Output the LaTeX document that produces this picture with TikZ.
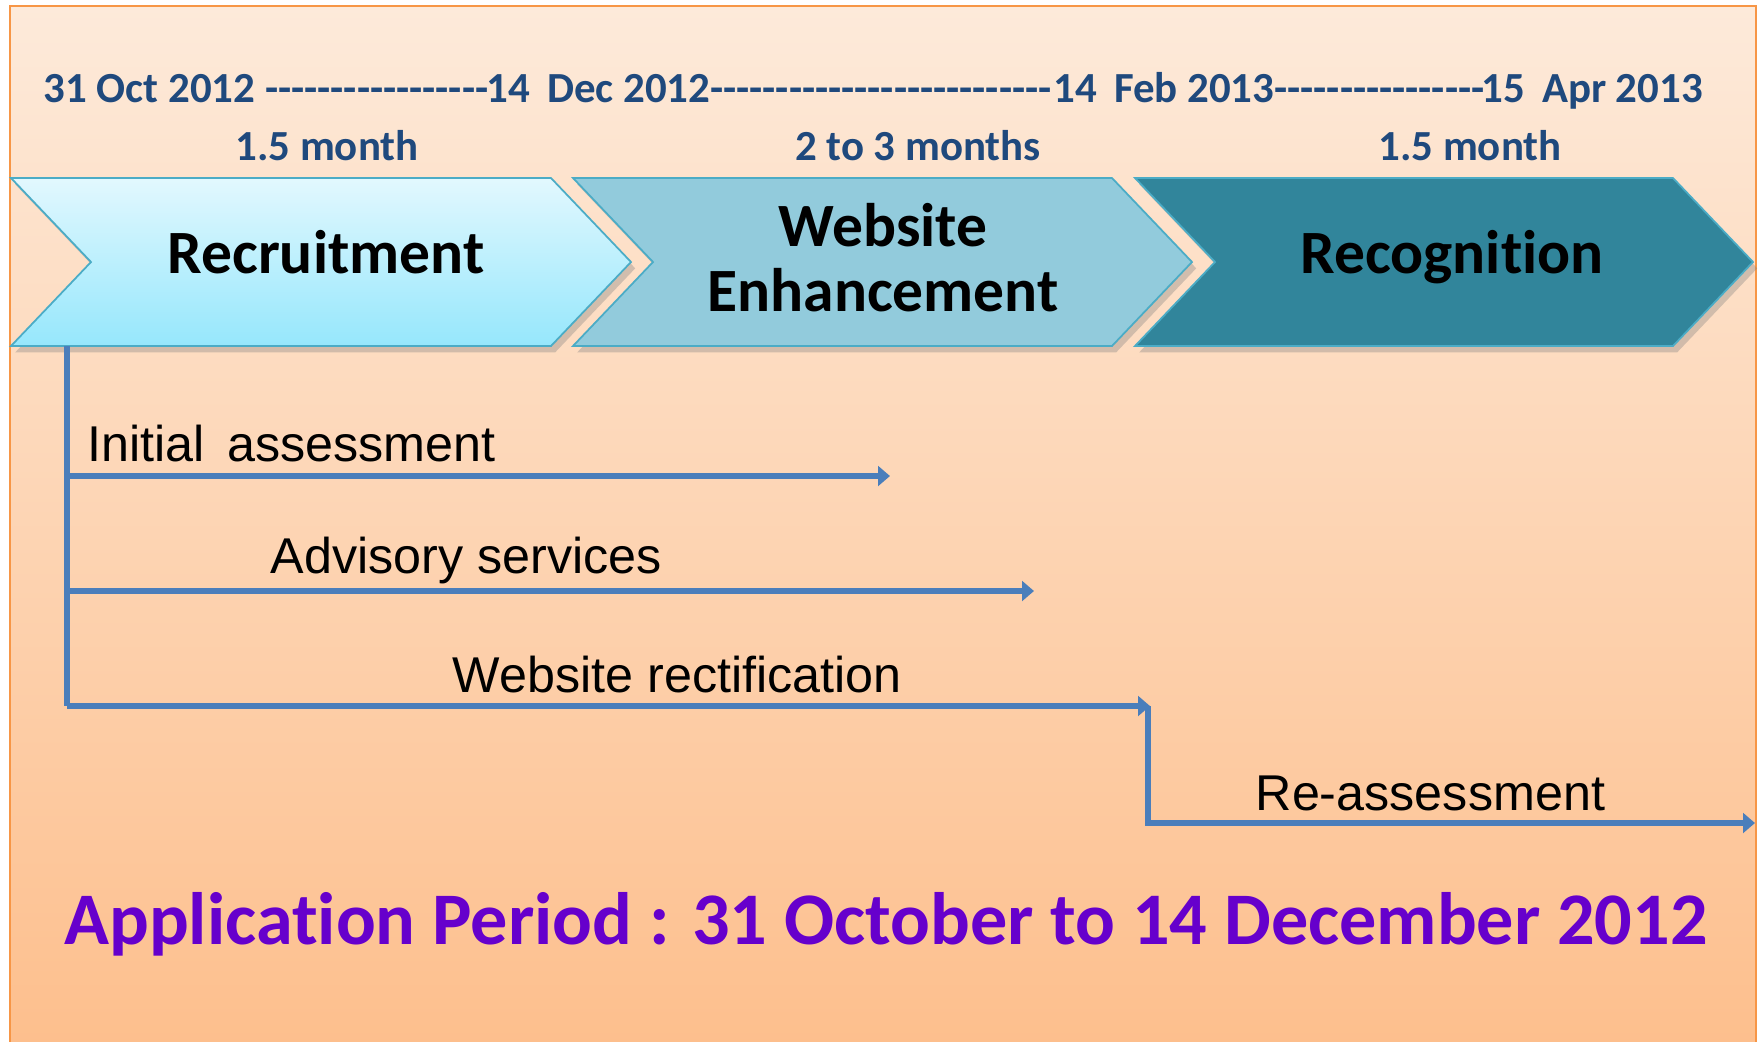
\documentclass[tikz,border=0pt]{standalone}
\usepackage{fontspec}
\setmainfont{Carlito}[Ligatures={TeXOff,CommonOff}]
\newfontfamily\arialfont{Liberation Sans}
\usetikzlibrary{arrows.meta,shadows}
\definecolor{peachtop}{RGB}{253,234,218}
\definecolor{peachbot}{RGB}{253,191,141}
\definecolor{borderorange}{RGB}{247,150,70}
\definecolor{dateblue}{RGB}{31,73,125}
\definecolor{chevedge}{RGB}{75,172,198}
\definecolor{recrtop}{RGB}{226,248,254}
\definecolor{recrbot}{RGB}{150,231,252}
\definecolor{webfill}{RGB}{146,203,220}
\definecolor{recogfill}{RGB}{49,133,155}
\definecolor{flowblue}{RGB}{74,126,187}
\definecolor{periodpurple}{RGB}{102,0,204}
\tikzset{
  bgpanel/.style={top color=peachtop, bottom color=peachbot, draw=borderorange, line width=0.5pt},
  chevron/.style={draw=chevedge, line width=0.5pt, line join=miter,
    drop shadow={shadow xshift=1.2pt, shadow yshift=-1.8pt, opacity=0.35}},
  datetext/.style={text=dateblue, font=\bfseries\fontsize{12.2}{14}\selectfont, inner sep=0pt},
  phasetext/.style={text=black, font=\bfseries\fontsize{17.5}{18.5}\selectfont, align=center, inner sep=0pt},
  tasktext/.style={text=black, font=\arialfont\fontsize{14.3}{16}\selectfont, anchor=west, inner sep=0pt},
  flowline/.style={draw=flowblue, line width=1.6pt},
  flowarrow/.style={flowline, -{Triangle[length=3.4pt, width=5.6pt]}},
}
\begin{document}
\begin{tikzpicture}[x=0.01cm, y=-0.01cm]
\useasboundingbox (0,0) rectangle (1762,1041);
% background panel
\path[bgpanel] (10,6) rectangle (1756,1045);

% timeline dates
\node[datetext, anchor=base west] (d1) at (43,102) {31 Oct 2012 -----------------};
\node[datetext, anchor=base west] (d2) at (486,102) {14\,\ Dec 2012--------------------------};
\node[datetext, anchor=base west] (d3) at (1053,102) {14\,\ Feb 2013----------------};
\node[datetext, anchor=base west] (d4) at (1481,102) {15\,\ Apr 2013};
\node[datetext, anchor=base] (m1) at (327,160) {1.5 month};
\node[datetext, anchor=base] (m2) at (918,160) {2 to 3 months};
\node[datetext, anchor=base] (m3) at (1470,160) {1.5 month};

% phase chevrons
\path[chevron, top color=recrtop, bottom color=recrbot]
  (11,178) -- (551,178) -- (631,262) -- (551,346) -- (11,346) -- (91,262) -- cycle;
\path[chevron, fill=webfill]
  (573,178) -- (1112,178) -- (1192,262) -- (1112,346) -- (573,346) -- (653,262) -- cycle;
\path[chevron, fill=recogfill]
  (1135,178) -- (1673,178) -- (1753,262) -- (1673,346) -- (1135,346) -- (1215,262) -- cycle;
\node[phasetext, anchor=base] (recruit) at (326,273) {Recruitment};
\node[phasetext] (website) at (883,258) {Website\\Enhancement};
\node[phasetext, anchor=base] (recog) at (1452,273) {Recognition};

% activity arrows
\coordinate (trunk) at (67,346);
\coordinate (trunkend) at (67,706);
\coordinate (iaend) at (890,476);
\coordinate (asend) at (1034,591);
\coordinate (wrend) at (1150,706);
\coordinate (raend) at (1755,823);
\draw[flowline] (trunk) -- (trunkend);
\draw[flowarrow] (trunk |- iaend) -- (iaend);
\draw[flowarrow] (trunk |- asend) -- (asend);
\draw[flowarrow] (trunkend) -- (wrend);
\draw[flowarrow] ([xshift=-0.6pt]wrend) |- (raend);
\node[tasktext] (ia) at (87,444) {Initial\,\ assessment};
\node[tasktext] (as) at (270,560) {Advisory services};
\node[tasktext] (wr) at (452,675) {Website rectification};
\node[tasktext] (ra) at (1255,793) {Re-assessment};

% application period
\node[text=periodpurple, font=\bfseries\fontsize{21.1}{24}\selectfont, inner sep=0pt] (period) at (886,924)
  {Application Period : 31 October to 14 December 2012};
\end{tikzpicture}
\end{document}
